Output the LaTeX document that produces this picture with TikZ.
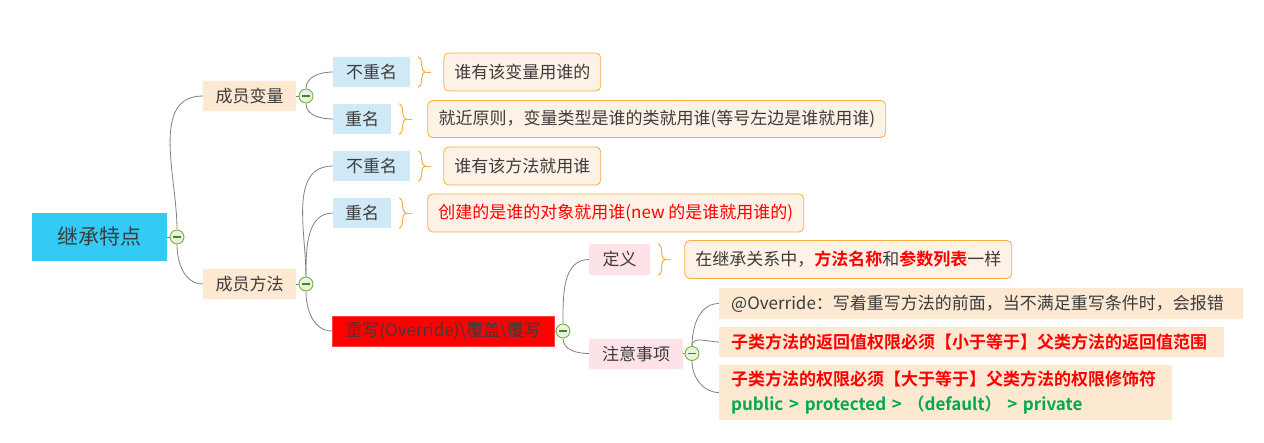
\documentclass[tikz,border=0pt]{standalone}
\usepackage{fontspec}
\setmainfont{Noto Sans CJK SC}[BoldFont={Noto Sans CJK SC Bold}]
\usetikzlibrary{positioning,decorations.pathreplacing}
\pgfdeclarelayer{background}
\pgfsetlayers{background,main}
\definecolor{mgray}{HTML}{3C3C3C}
\definecolor{mline}{HTML}{808080}
\definecolor{mroot}{HTML}{33CBF6}
\definecolor{mpeach}{HTML}{FDE8D2}
\definecolor{mblue}{HTML}{CFEAF6}
\definecolor{mpink}{HTML}{FDE2E8}
\definecolor{mleaf}{HTML}{FEF2E6}
\definecolor{morange}{HTML}{F5B041}
\definecolor{mred}{HTML}{FF0000}
\definecolor{mgreen}{HTML}{00A84F}
\definecolor{foldg}{HTML}{74B343}
\definecolor{foldf}{HTML}{E8F3DE}

\begin{document}
\begin{tikzpicture}[x=1pt,y=-1pt,node distance=33pt,
  every node/.style={font=\fontsize{17}{20}\selectfont,text=mgray,inner sep=0pt,align=center},
  topic/.style={anchor=west,minimum height=30pt},
  sub/.style={minimum height=30pt,fill=mblue},
  leaf/.style={draw=morange,line width=0.8pt,fill=mleaf,rounded corners=5pt,minimum height=38pt},
  note/.style={anchor=west,fill=mpeach,inner xsep=12pt,align=left},
  fold/.style={circle,draw=foldg,fill=foldf,line width=0.9pt,minimum size=14pt,
    path picture={\draw[foldg!70!black,line width=1.3pt]
      ([xshift=-4pt]path picture bounding box.center) -- ([xshift=4pt]path picture bounding box.center);}},
  link/.style={draw=mline,line width=0.8pt},
  brc/.style={draw=morange,line width=1pt,decorate,decoration={brace,amplitude=6.5pt}}]
\useasboundingbox (0,0) rectangle (1264,442);

% root and first level
\node[topic,fill=mroot,minimum width=135pt,minimum height=48pt,font=\fontsize{21}{24}\selectfont] (root) at (32,237) {继承特点};
\node[fold] (c0) at (177,237) {};
\node[topic,fill=mpeach,minimum width=93pt] (mv) at (203,96) {成员变量};
\node[fold] (c1) at (306,96) {};
\node[topic,fill=mpeach,minimum width=93pt] (mf) at (203,284) {成员方法};
\node[fold] (c2) at (306,284) {};

% 成员变量
\node[topic,sub,minimum width=77pt] (vn) at (333,72) {不重名};
\node[topic,sub,minimum width=58pt] (vs) at (333,119) {重名};
\node[leaf,minimum width=157pt,right=of vn] (vnT) {谁有该变量用谁的};
\node[leaf,minimum width=458pt,minimum height=37pt,right=36pt of vs] (vsT) {就近原则，变量类型是谁的类就用谁(等号左边是谁就用谁)};

% 成员方法
\node[topic,sub,minimum width=77pt] (fn) at (333,166) {不重名};
\node[topic,sub,minimum width=58pt] (fs) at (333,213) {重名};
\node[leaf,minimum width=157pt,right=of fn] (fnT) {谁有该方法就用谁};
\node[leaf,minimum width=376pt,right=36pt of fs,text=mred] (fsT) {创建的是谁的对象就用谁(new 的是谁就用谁的)};

% 重写
\node[topic,fill=mred,draw=mred!75!white,minimum width=222pt] (ov) at (332,331) {重写(Override)\textbackslash 覆盖\textbackslash 覆写};
\node[fold] (c3) at (563,331) {};
\node[topic,fill=mpink,minimum width=61pt,minimum height=31pt] (def) at (589,259.5) {定义};
\node[leaf,minimum width=327pt,right=34pt of def] (defT) {在继承关系中，\textcolor{mred}{\textbf{方法名称}}和\textcolor{mred}{\textbf{参数列表}}一样};
\node[topic,fill=mpink,minimum width=94pt] (att) at (589,353.5) {注意事项};
\node[fold] (c4) at (692,353.5) {};
\node[note,text width=500pt,minimum height=31pt] (n1) at (719,303.5) {@Override：写着重写方法的前面，当不满足重写条件时，会报错};
\node[note,text width=481pt,minimum height=30pt,text=mred,font=\fontsize{17}{20}\selectfont\bfseries] (n2) at (719,342) {子类方法的返回值权限必须【小于等于】父类方法的返回值范围};
\node[note,text width=429pt,minimum height=55pt,font=\fontsize{17}{25}\selectfont\bfseries] (n3) at (719,392.5)
  {\textcolor{mred}{子类方法的权限必须【大于等于】父类方法的权限修饰符}\\\textcolor{mgreen}{public > protected > （default） > private}};

\begin{pgfonlayer}{background}
\draw[link] (root.east) -- (c0);
\draw[link] (mv.east) -- (c1);
\draw[link] (mf.east) -- (c2);
\draw[link] (ov.east) -- (c3);
\draw[link] (att.east) -- (c4);
\draw[link] (c0) to[out=90,in=180] (mv.west);
\draw[link] (c0) to[out=-90,in=180] (mf.west);
\draw[link] (c1) to[out=90,in=180] (vn.west);
\draw[link] (c1) to[out=-90,in=180] (vs.west);
\draw[link] (c2) to[out=90,in=180] (fn.west);
\draw[link] (c2) to[out=90,in=180] (fs.west);
\draw[link] (c2) to[out=-90,in=180] (ov.west);
\draw[link] (c3) to[out=90,in=180] (def.west);
\draw[link] (c3) to[out=-90,in=180] (att.west);
\draw[link] (c4) to[out=90,in=180] (n1.west);
\draw[link] (c4) to[out=90,in=180] (n2.west);
\draw[link] (c4) to[out=-90,in=180] (n3.west);
\end{pgfonlayer}

% braces
\foreach \s in {vn,vs,fn,fs,def}{
  \draw[brc] ([xshift=8pt]\s.north east) -- ([xshift=8pt]\s.south east);
  \draw[morange,line width=1pt] ([xshift=14.5pt]\s.east) -- ([xshift=21pt]\s.east);
}
\end{tikzpicture}
\end{document}
